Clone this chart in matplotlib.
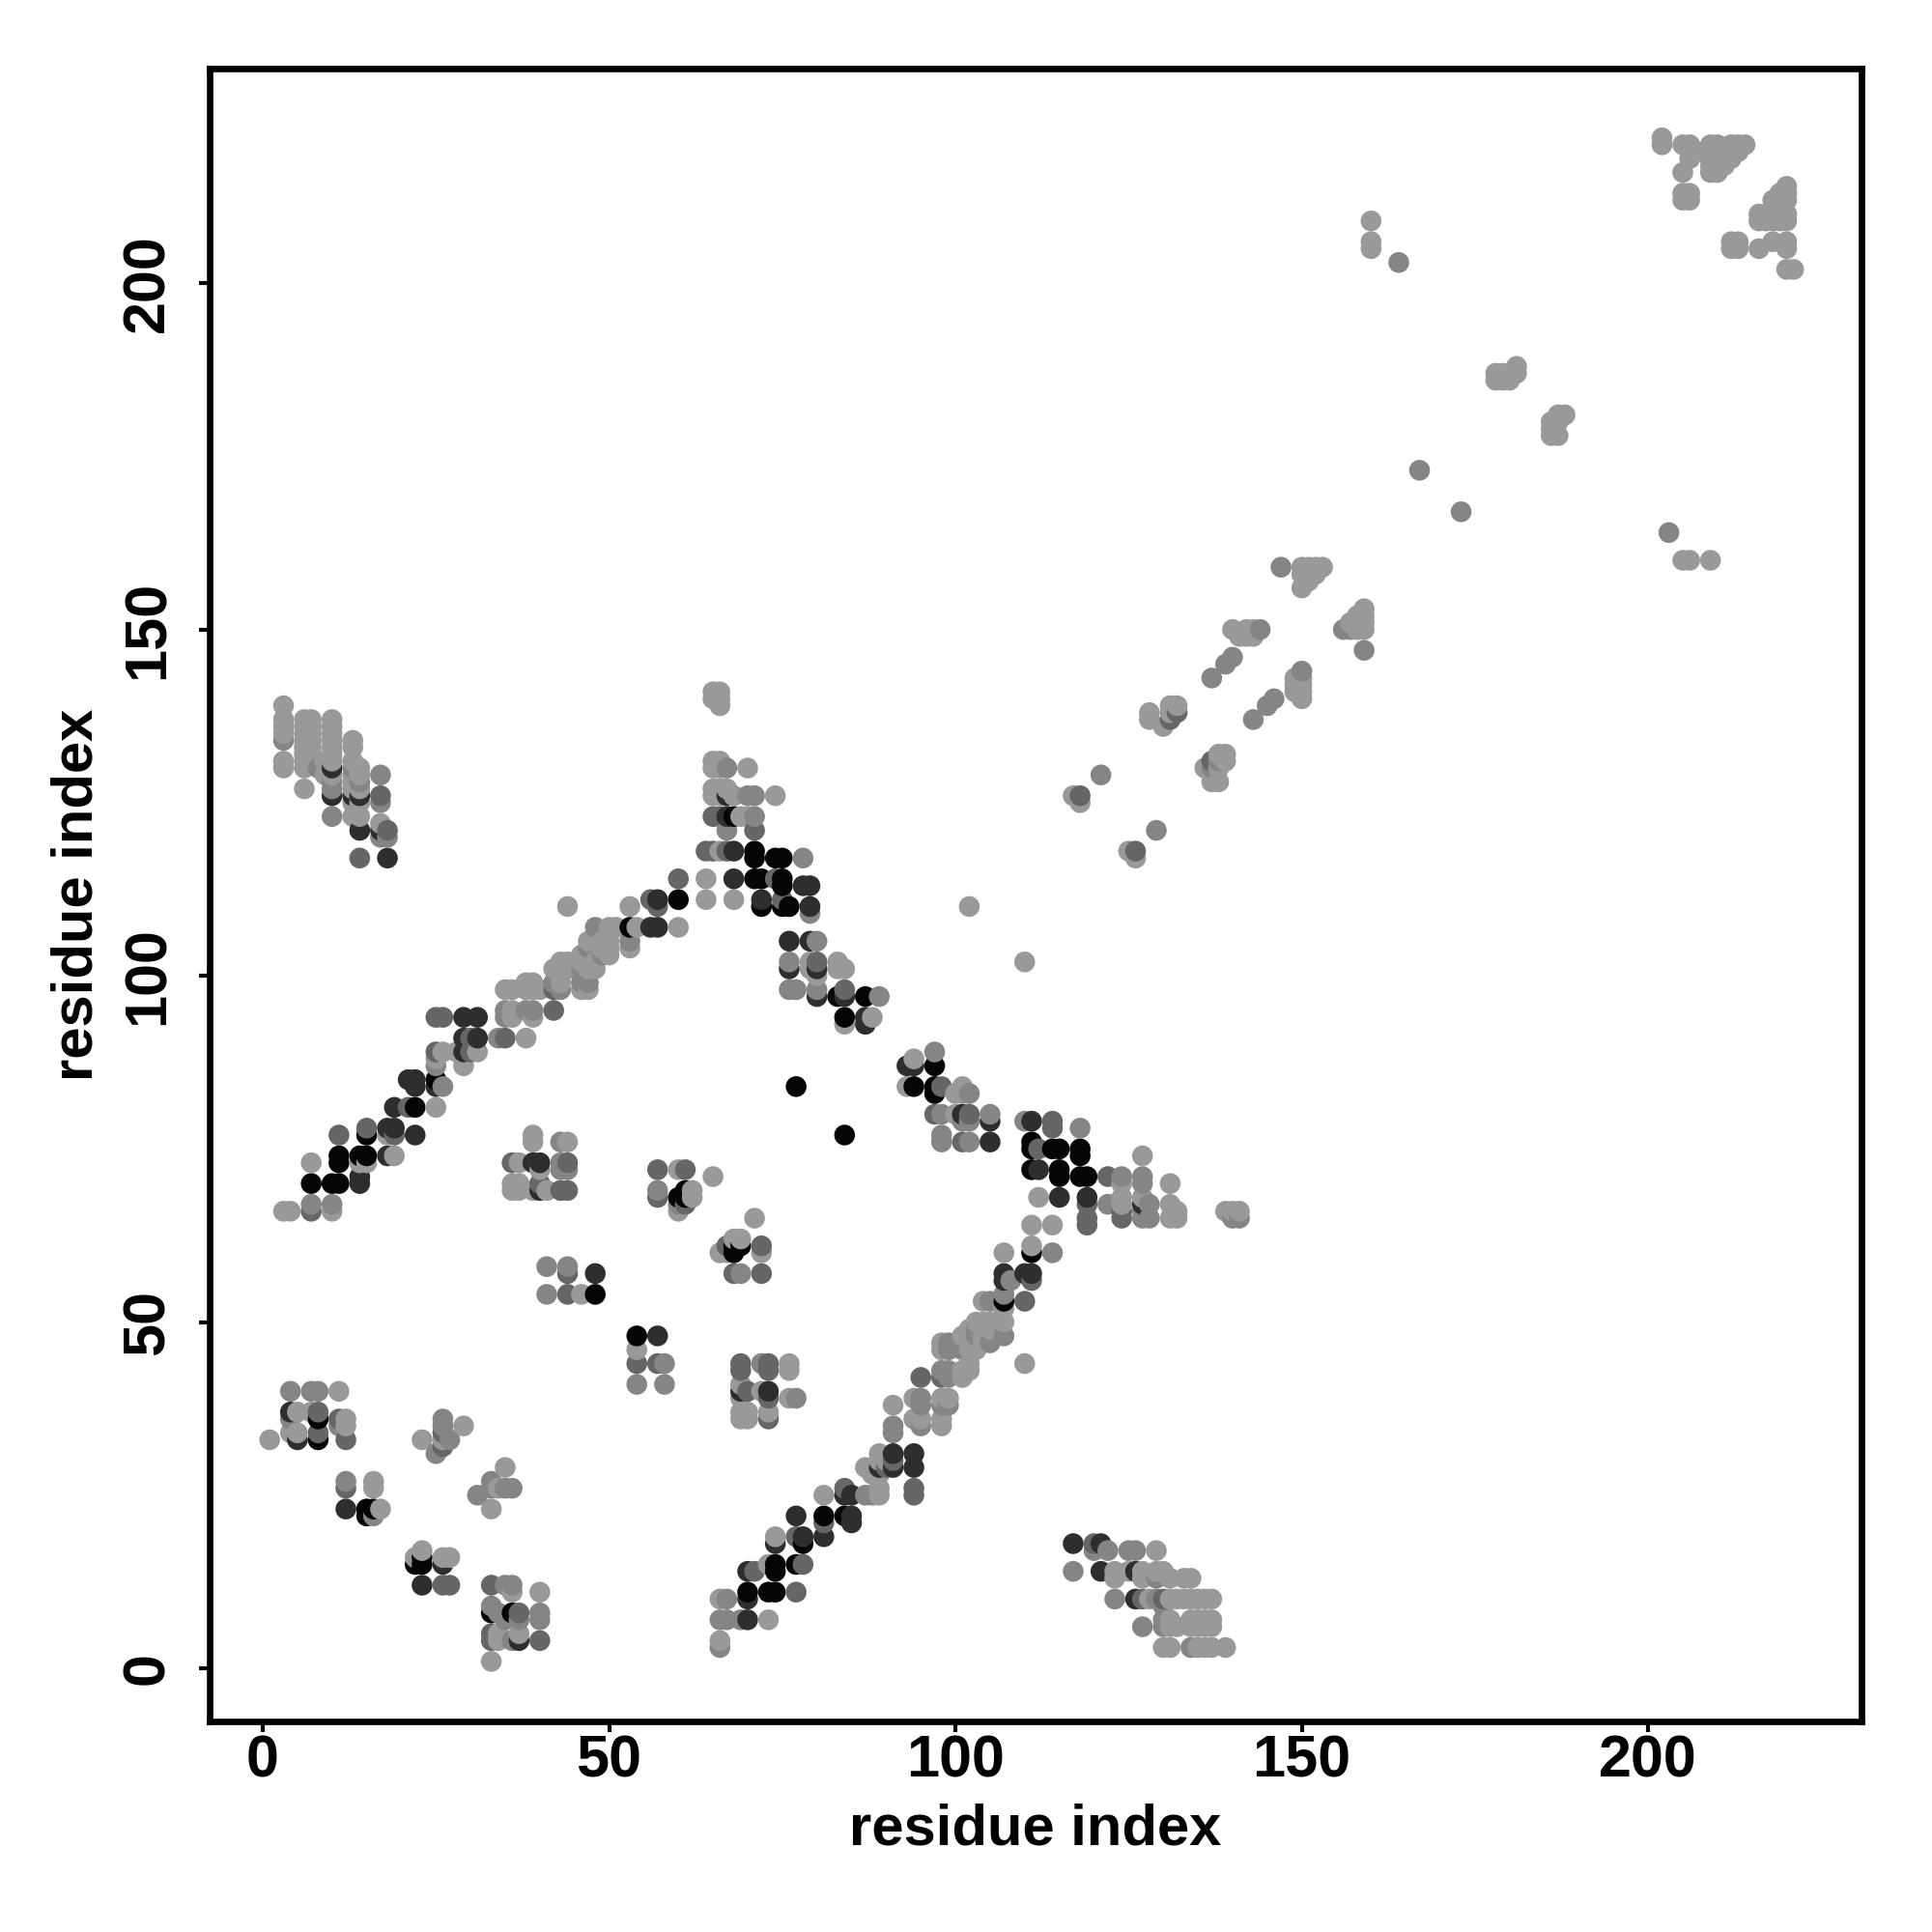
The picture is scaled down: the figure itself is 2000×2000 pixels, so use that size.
import matplotlib
matplotlib.use("Agg")
import matplotlib.pyplot as plt

tick_values = [0, 50, 100, 150, 200]
axis_label = "residue index"

# residue contacts (i, j), grouped by contact shade
black = [(8,36),(8,33),(15,23),(15,22),(16,23),(22,15),(23,15),(23,16),(36,8),(33,8),(60,68),(61,69),(61,68),(68,61),(69,61),(68,60),
 (48,54),(54,48),(70,11),(73,11),(74,11),(74,15),(74,14),(77,15),(78,18),(81,22),(84,22),(107,53),(111,60),(71,118),(71,117),(74,117),(75,117),
 (71,114),(72,114),(75,114),(75,113),(72,110),(75,110),(76,110),(60,111),(53,107),(68,123),
 (84,94),(83,97),(87,97),(97,87),(94,84),(97,84),(97,83),(111,76),(111,75),(114,75),(115,75),(118,75),(118,74),(111,72),(115,72),(115,71),(118,71),(119,71),
 (7,70),(10,70),(11,70),(11,74),(11,73),(14,74),(15,74),(15,77),(22,81),(25,85),(77,84),(84,77)]
dark = [(4,37),(5,33),(37,4),(12,23),(23,12),(26,15),(37,4),(48,57),(57,48),(39,73),(40,73),(40,69),(70,7),(70,10),(70,14),(74,18),(78,19),
 (77,22),(81,19),(85,22),(85,21),(84,25),(85,25),(91,31),(91,29),(94,31),(94,29),(89,29),(73,40),(69,40),(107,57),(107,56),(110,57),(111,57),
 (117,18),(121,14),(121,18),(126,14),(126,10),(56,107),(57,107),(57,111),(68,118),(68,114),(72,111),(78,113),(79,113),(79,110),(76,105),(79,105),
 (76,101),(80,101),(80,97),(84,97),(87,94),(87,93),(93,87),(94,87),(101,80),(105,79),(105,76),(111,79),(112,72),(115,68),(119,68),(127,67),
 (14,71),(14,70),(18,78),(19,78),(18,74),(22,77),(19,81),(21,85),(22,85),(22,84),(25,84),(29,94),(31,94),(29,91),(31,91),(29,89),(10,130),(10,126),
 (13,126),(14,126),(14,121),(17,121),(18,117),(67,123),(67,126)]
medium = [(12,33),(33,12),(37,8),(12,26),(26,12),(27,12),(8,37),(8,34),(11,36),(26,32),(33,5),(33,4),(40,4),(69,44),(69,43),(73,44),(73,43),(72,57),
 (77,19),(78,15),(77,11),(71,14),(81,21),(84,26),(94,26),(94,25),(95,42),(98,42),(91,30),(90,29),(70,40),(73,39),(73,36),(110,53),(111,56),(120,18),
 (127,10),(130,10),(36,73),(44,73),(40,70),(43,69),(44,69),(57,72),(61,72),(57,68),(61,67),(67,61),(72,61),(68,57),(72,57),(44,57),(44,54),(54,44),(57,44),
 (66,123),(65,123),(64,118),(65,118),(67,118),(56,111),(57,110),(60,114),(71,121),(74,114),(75,111),(80,102),(98,84),(97,80),(102,80),(101,76),
 (114,79),(114,78),(112,75),(122,71),(119,67),(119,65),(119,64),(124,65),(124,66),(84,98),(7,66),(11,77),(15,78),(19,77),(21,81),(25,89),(25,94),(26,94),(30,91),(35,91),(30,89),(42,95),
 (42,98),(118,126),(126,118),(131,137),(132,138),(137,131),(17,126),(18,121),(14,117),(26,34)]
gray = [(4,40),(7,40),(8,40),(4,36),(11,35),(12,27),(16,22),(26,36),(26,35),(26,34),(27,33),(25,31),(33,27),(33,26),(35,26),(36,26),(31,25),
 (35,12),(36,12),(33,9),(34,8),(37,7),(35,7),(40,8),(40,7),(36,4),(66,3),(66,7),(67,7),(69,7),(67,10),(68,57),(69,57),(91,35),(91,34),(95,39),(95,38),(95,35),
 (98,38),(98,43),(99,43),(99,42),(99,38),(99,46),(99,47),(101,47),(101,46),(103,49),(103,48),(105,47),(107,48),(105,53),(107,54),(108,56),(110,57),(114,60),
 (87,25),(88,25),(72,44),(43,76),(43,73),(43,72),(44,72),(57,69),(60,67),(41,58),(44,58),(41,54),(54,41),(58,44),(58,41),(69,57),(117,14),(120,17),(122,17),(125,17),(126,17),
 (123,10),(129,10),(130,9),(129,13),(127,6),(130,7),(130,6),(134,3),(70,126),(71,126),(71,123),(67,130),(67,121),(76,98),(77,98),(76,102),(80,105),(80,98),(78,117),(79,109),
 (89,97),(97,89),(98,80),(102,83),(102,79),(101,79),(105,80),(98,77),(98,76),(102,76),(110,79),(118,78),(124,71),(127,71),(127,70),(122,67),(128,67),(127,66),(127,65),(128,65),
 (140,65),(141,65),(7,67),(10,67),(25,87),(26,84),(34,91),(35,95),(35,94),(38,95),(39,95),(43,98),(42,99),(46,99),(47,99),(46,101),(47,104),(48,107),(49,103),(53,105),
 (3,134),(8,130),(13,130),(14,128),(10,127),(10,128),(10,123),(17,129),(17,125),(17,120),(18,120),(121,129),(129,121),(144,150),(146,140),(145,139),(140,146),(139,145),(137,143),
 (150,144),(138,131),(137,130),(156,150),(157,150),(159,147),(147,159),(203,164),(164,203),(173,167),(167,173),(77,39),(143,137)]
light = [(1,33),(5,37),(7,37),(11,40),(12,36),(12,35),(4,34),(5,34),(16,27),(16,26),(17,23),(23,33),(26,33),(29,35),(25,31),(34,26),(35,29),(33,23),(34,5),(34,4),
 (37,5),(23,17),(22,16),(26,16),(27,16),(33,1),(36,11),(40,11),(66,4),(66,10),(73,7),(73,15),(74,19),(81,25),(88,28),(87,29),(89,26),(89,25),(89,31),(89,30),(89,28),(90,30),(91,38),
 (94,39),(94,36),(95,36),(98,39),(99,39),(98,36),(98,35),(101,42),(102,44),(102,43),(101,43),(98,47),(98,46),(101,48),(102,49),(102,46),(103,50),(103,47),(103,46),
 (104,50),(104,48),(104,47),(105,50),(105,49),(106,50),(107,50),(104,53),(107,52),(107,60),(110,53),(110,44),(69,41),(69,39),(72,40),(76,44),(76,43),(76,39),(69,37),(69,36),(70,37),(70,36),(73,37),
 (72,60),(67,60),(39,77),(39,76),(44,76),(37,73),(40,72),(36,70),(37,70),(36,69),(37,69),(39,69),(41,69),(60,72),(65,71),(62,69),(62,68),(60,66),(71,65),(68,62),(69,62),(66,60),(72,60),(46,54),(54,46),
 (123,14),(123,13),(125,14),(127,14),(127,13),(129,14),(130,14),(131,13),(133,13),(134,13),(129,17),(128,10),(131,10),(132,10),(133,10),(134,10),(135,10),(136,10),(137,10),
 (131,7),(131,6),(132,6),(134,7),(135,7),(136,7),(137,7),(134,6),(135,6),(136,6),(137,6),(130,3),(131,3),(135,3),(136,3),(137,3),(139,3),
 (65,141),(66,141),(65,140),(66,140),(66,139),(65,131),(66,131),(65,130),(66,130),(70,130),(65,127),(66,127),(67,127),(65,126),(66,126),(68,126),(74,126),(68,123),(69,123),(70,123),
 (66,118),(64,114),(64,111),(68,111),(79,102),(79,101),(83,102),(83,101),(84,101),(80,100),(84,93),(88,94),(94,88),(93,84),(100,83),(101,84),(101,83),(100,80),(101,79),(102,79),
 (112,68),(111,64),(114,64),(111,61),(127,74),(131,70),(124,70),(124,68),(124,67),(127,68),(131,67),(131,65),(132,66),(132,65),(139,66),(140,66),(141,66),
 (3,66),(4,66),(10,66),(7,73),(14,73),(15,73),(18,77),(19,74),(25,81),(26,89),(25,88),(28,89),(30,89),(31,89),(29,88),(29,87),(38,91),(36,95),(36,94),(39,94),(35,98),(36,98),(38,99),(39,99),(38,98),(39,98),(40,98),
 (42,101),(43,101),(44,101),(43,102),(44,102),(46,98),(47,98),(46,103),(46,102),(47,105),(47,103),(47,102),(47,101),(48,102),(48,101),(49,105),(49,104),(50,107),(50,105),(50,104),(50,103),(51,107),(54,107),(53,104),(53,110),(60,107),(44,110),(43,99),
 (3,139),(3,137),(3,136),(3,135),(3,131),(3,130),(6,137),(6,136),(6,135),(6,134),(6,133),(6,132),(6,131),(6,130),(6,127),(7,137),(7,136),(7,135),(7,134),(7,133),(7,132),(7,131),(10,137),(10,136),(10,135),(10,134),(10,133),(10,132),(10,131),(10,129),
 (9,131),(9,129),(13,134),(13,133),(13,131),(13,129),(13,128),(13,127),(13,125),(13,123),(14,130),(14,129),(14,127),(14,125),(14,123),(17,122),(102,110),(110,102),
 (117,126),(118,125),(125,118),(126,117),(128,138),(128,137),(131,139),(132,139),(130,136),(131,138),(138,132),(139,132),(139,131),(136,130),(138,130),(137,128),(138,128),
 (140,150),(141,149),(142,150),(143,150),(142,149),(143,149),(149,143),(150,143),(149,142),(150,142),(149,141),(150,141),(150,140),(150,159),(151,159),(152,159),(153,159),(150,158),(151,158),(152,158),(151,157),(150,156),
 (157,151),(158,152),(158,151),(158,150),(159,153),(159,152),(159,151),(159,150),(160,209),(160,206),(160,205),(178,187),(178,186),(179,187),(179,186),(180,186),(181,187),(181,188),
 (186,178),(187,178),(186,179),(186,180),(187,180),(187,181),(188,181),(205,160),(206,160),(209,160),
 (202,221),(202,220),(205,220),(206,220),(206,218),(205,216),(205,213),(206,213),(205,212),(206,212),(207,219),(209,220),(210,220),(209,219),(210,219),(209,218),(210,218),(209,217),(210,217),(209,216),(210,216),(211,217),
 (212,220),(213,220),(214,220),(212,219),(213,219),(212,218),(220,214),(219,213),(220,213),(218,212),(219,212),(220,212),(216,210),(217,210),(218,210),(219,210),(220,210),(216,209),(217,209),(218,209),(219,209),(220,209),
 (212,206),(213,206),(212,205),(213,205),(216,205),(218,206),(220,206),(220,205),(220,202),(221,202)]

shades = [(light, 0.60), (gray, 0.52), (medium, 0.40), (dark, 0.18), (black, 0.02)]

# one shade per contact, darker groups win; drawn by increasing i then j
contact = {}
for pts, shade in shades:
    for p in pts:
        contact[p] = shade
order = sorted(contact)
xs = [p[0] for p in order]
ys = [p[1] for p in order]
cs = [str(contact[p]) for p in order]

plt.rcParams["font.family"] = ["Liberation Sans", "DejaVu Sans"]
plt.rcParams["font.weight"] = "bold"

fig = plt.figure(figsize=(10, 10), dpi=200)
ax = fig.add_axes([217/2000, 1-1782/2000, (1927-217)/2000, (1782-71)/2000])
ax.scatter(xs, ys, c=cs, s=60, linewidths=0, zorder=2)
ax.set_xlim(-7.67, 230.8)
ax.set_ylim(-7.67, 231.0)
ax.set_xticks(tick_values)
ax.set_yticks(tick_values)
ax.tick_params(axis="x", length=4, width=1.5, labelsize=22, pad=1)
ax.tick_params(axis="y", length=4, width=1.5, labelsize=22, pad=8.5)
for t in ax.get_yticklabels():
    t.set_rotation(90)
    t.set_va("center")
for s in ax.spines.values():
    s.set_linewidth(2.4)
ax.set_xlabel(axis_label, fontsize=21.5, fontweight="bold", labelpad=5)
ax.set_ylabel(axis_label, fontsize=21.5, fontweight="bold", labelpad=6.5)
fig.savefig("out.png", dpi=200, facecolor="white")
